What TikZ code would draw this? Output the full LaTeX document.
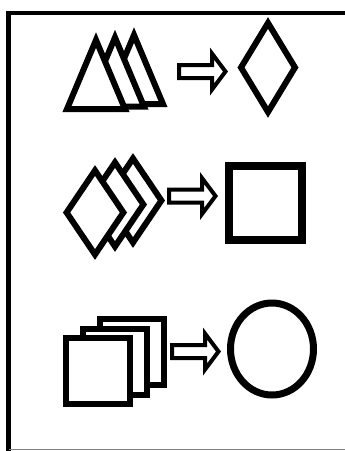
\documentclass[tikz,border=0pt]{standalone}
\begin{document}
\begin{tikzpicture}[x=1pt,y=-1pt,
  outl/.style={draw=black, fill=white, line width=6pt, line join=miter},
  blockarrow/.style={draw=black, fill=white, line width=4pt, line join=miter}]
\useasboundingbox (0,0) rectangle (345,451);
\fill[white] (0,0) rectangle (345,451);
% frame
\draw[line width=4pt] (6,13) -- (345,13);
\draw[line width=5pt] (8.5,11) -- (8.5,451);
\draw[gray, line width=1pt] (8.5,449.5) -- (345,449.5);
% row 1: triangles -> diamond
\foreach \dx/\dy in {38/-5, 19/-2.5, 0/0}
  \draw[outl, shift={(\dx,\dy)}] (96,40) -- (67,109) -- (125,109) -- cycle;
\draw[blockarrow, shift={(179,71.5)}] (0,-6.5) -- (33,-6.5) -- (33,-18) -- (46.5,0) -- (33,18) -- (33,6.5) -- (0,6.5) -- cycle;
\draw[outl] (268,23) -- (295,67.5) -- (268,112) -- (241,67.5) -- cycle;
% row 2: diamonds -> square
\foreach \dx/\dy in {38/-12, 20/-8, 0/0}
  \draw[outl, shift={(\dx,\dy)}] (95,170.5) -- (123.4,212.5) -- (95,254.5) -- (66.6,212.5) -- cycle;
\draw[blockarrow, shift={(169,196)}] (0,-6.5) -- (33,-6.5) -- (33,-18) -- (46.5,0) -- (33,18) -- (33,6.5) -- (0,6.5) -- cycle;
\draw[outl, line width=8pt] (229,166) rectangle (302,240);
% row 3: squares -> circle
\foreach \dx/\dy in {34/-19, 17/-9, 0/0}
  \draw[outl, shift={(\dx,\dy)}] (66,338) rectangle (130,404);
\draw[blockarrow, shift={(172,351.5)}] (0,-6.5) -- (33,-6.5) -- (33,-18) -- (46.5,0) -- (33,18) -- (33,6.5) -- (0,6.5) -- cycle;
\draw[outl, line width=7pt] (272,349) ellipse [x radius=41.5, y radius=46];
\end{tikzpicture}
\end{document}
